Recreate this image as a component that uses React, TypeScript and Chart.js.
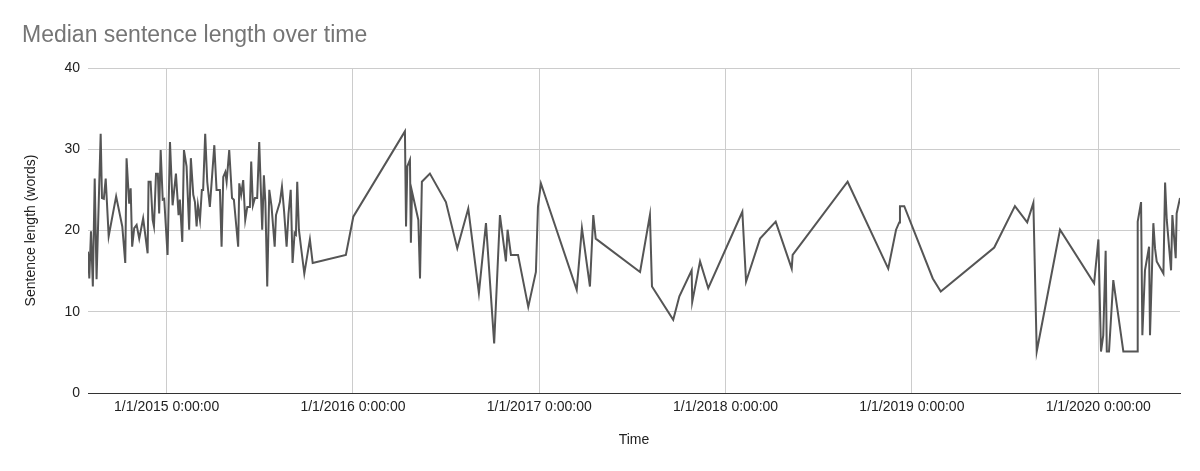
import React, { useEffect, useRef } from "react";
import { Chart, registerables } from "chart.js";

Chart.register(...registerables);

const TITLE = "Median sentence length over time";
const X_TITLE = "Time";
const Y_TITLE = "Sentence length (words)";
const YEAR_TICKS = [2015, 2016, 2017, 2018, 2019, 2020];
const X_MIN = 2014.578;
const X_MAX = 2020.439;
const Y_MIN = 0;
const Y_MAX = 40;
const Y_STEP = 10;

// time as decimal year
const TIMES = [
  2014.578, 2014.585, 2014.594, 2014.604, 2014.614, 2014.624, 2014.646, 2014.653, 2014.663, 2014.673,
  2014.689, 2014.729, 2014.762, 2014.778, 2014.785, 2014.799, 2014.807, 2014.815, 2014.826, 2014.839,
  2014.853, 2014.874, 2014.898, 2014.903, 2014.914, 2014.925, 2014.932, 2014.943, 2014.953, 2014.960,
  2014.968, 2014.979, 2014.987, 2015.005, 2015.018, 2015.032, 2015.050, 2015.064, 2015.071, 2015.084,
  2015.093, 2015.107, 2015.121, 2015.130, 2015.143, 2015.152, 2015.161, 2015.168, 2015.179, 2015.189,
  2015.196, 2015.207, 2015.218, 2015.232, 2015.256, 2015.268, 2015.286, 2015.295, 2015.304, 2015.315,
  2015.322, 2015.336, 2015.351, 2015.361, 2015.384, 2015.390, 2015.400, 2015.411, 2015.422, 2015.433,
  2015.447, 2015.454, 2015.463, 2015.474, 2015.486, 2015.497, 2015.513, 2015.522, 2015.530, 2015.540,
  2015.551, 2015.563, 2015.580, 2015.587, 2015.608, 2015.619, 2015.630, 2015.644, 2015.654, 2015.666,
  2015.676, 2015.687, 2015.694, 2015.701, 2015.710, 2015.721, 2015.739, 2015.769, 2015.784, 2015.962,
  2016.002, 2016.279, 2016.285, 2016.292, 2016.306, 2016.311, 2016.317, 2016.351, 2016.360, 2016.370,
  2016.413, 2016.499, 2016.560, 2016.619, 2016.676, 2016.714, 2016.758, 2016.789, 2016.821, 2016.830,
  2016.848, 2016.886, 2016.941, 2016.982, 2016.993, 2017.009, 2017.201, 2017.229, 2017.272, 2017.290,
  2017.303, 2017.541, 2017.594, 2017.605, 2017.719, 2017.752, 2017.818, 2017.821, 2017.863, 2017.907,
  2018.090, 2018.110, 2018.185, 2018.269, 2018.355, 2018.360, 2018.655, 2018.873, 2018.915, 2018.932,
  2018.936, 2018.959, 2019.112, 2019.155, 2019.442, 2019.553, 2019.619, 2019.652, 2019.670, 2019.795,
  2019.978, 2020.001, 2020.015, 2020.027, 2020.040, 2020.046, 2020.058, 2020.081, 2020.135, 2020.210,
  2020.212, 2020.230, 2020.237, 2020.251, 2020.273, 2020.278, 2020.296, 2020.305, 2020.314, 2020.350,
  2020.359, 2020.368, 2020.391, 2020.398, 2020.416, 2020.421, 2020.439,
];

// median sentence length (words)
const LENGTHS = [
  17.4, 14.1, 19.9, 13.1, 26.4, 14.0, 31.9, 24.0, 23.9, 26.4,
  19.3, 24.2, 20.5, 16.0, 28.9, 23.3, 25.2, 18.0, 20.3, 20.7,
  19.0, 21.5, 17.2, 26.0, 26.0, 21.3, 20.5, 27.0, 27.0, 22.1,
  29.9, 23.8, 23.9, 17.0, 30.9, 23.1, 27.0, 21.9, 23.8, 18.6,
  29.9, 27.9, 20.1, 28.9, 24.4, 23.5, 20.5, 23.1, 21.3, 25.0,
  25.0, 31.9, 26.0, 22.9, 30.5, 25.0, 25.0, 18.0, 26.6, 27.2,
  26.0, 29.9, 24.0, 23.8, 18.0, 25.8, 24.4, 26.2, 21.3, 22.9,
  22.9, 28.5, 23.1, 24.0, 24.0, 30.9, 20.1, 26.8, 23.5, 13.1,
  25.0, 23.0, 18.0, 21.9, 23.5, 25.4, 22.5, 18.0, 22.0, 25.0,
  16.0, 19.7, 19.5, 26.0, 20.1, 18.0, 14.7, 18.9, 16.0, 17.0,
  21.7, 32.2, 20.5, 27.9, 28.7, 18.5, 24.8, 21.3, 14.1, 26.0,
  27.0, 23.5, 17.8, 22.7, 12.3, 20.9, 6.1, 21.9, 16.2, 20.1,
  17.0, 17.0, 10.6, 14.9, 22.9, 25.8, 12.7, 20.3, 13.1, 21.9,
  19.0, 14.9, 21.9, 13.1, 9.0, 11.9, 15.1, 11.2, 16.2, 12.9,
  22.3, 13.7, 19.0, 21.1, 15.3, 17.0, 26.0, 15.3, 20.1, 21.0,
  23.0, 23.0, 14.1, 12.5, 17.9, 23.0, 21.0, 23.4, 5.1, 20.1,
  13.5, 18.9, 5.1, 7.1, 17.5, 5.1, 5.1, 13.9, 5.1, 5.1,
  21.1, 23.5, 7.1, 15.1, 18.0, 7.1, 20.9, 17.8, 16.2, 14.7,
  25.9, 21.3, 15.1, 21.9, 16.6, 22.1, 24.0,
];

const FONT = "'Liberation Sans', Arial, Helvetica, sans-serif";

const textPlugin = {
  id: "customTexts",
  afterDraw(chart: any) {
    const { ctx, chartArea } = chart;
    ctx.save();
    ctx.fillStyle = "#757575";
    ctx.font = `23px ${FONT}`;
    ctx.textAlign = "left";
    ctx.textBaseline = "alphabetic";
    ctx.fillText(TITLE, 22, 42);

    ctx.fillStyle = "#222222";
    ctx.font = `14px ${FONT}`;
    ctx.textAlign = "center";
    ctx.textBaseline = "middle";
    ctx.fillText(X_TITLE, (chartArea.left + chartArea.right) / 2, 440);

    ctx.translate(31, (chartArea.top + chartArea.bottom) / 2);
    ctx.rotate(-Math.PI / 2);
    ctx.fillText(Y_TITLE, 0, 0);
    ctx.restore();
  },
};

export default function App() {
  const ref = useRef<HTMLCanvasElement | null>(null);

  useEffect(() => {
    if (!ref.current) return;
    const points = TIMES.map((t, i) => ({ x: t, y: LENGTHS[i] }));
    const chart = new Chart(ref.current, {
      type: "line",
      data: {
        datasets: [
          {
            label: Y_TITLE,
            data: points,
            borderColor: "#555555",
            borderWidth: 2,
            pointRadius: 0,
            tension: 0,
            fill: false,
          },
        ],
      },
      options: {
        responsive: false,
        animation: false,
        layout: { padding: { top: 68, left: 0, right: 20, bottom: 0 } },
        plugins: {
          legend: { display: false },
          tooltip: { enabled: false },
          title: { display: false },
        },
        scales: {
          x: {
            type: "linear",
            min: X_MIN,
            max: X_MAX,
            afterBuildTicks: (scale: any) => {
              scale.ticks = YEAR_TICKS.map((v) => ({ value: v }));
            },
            afterFit: (scale: any) => {
              scale.height = 78;
            },
            ticks: {
              autoSkip: false,
              maxRotation: 0,
              minRotation: 0,
              padding: 6,
              color: "#222222",
              font: { family: FONT, size: 14 },
              callback: (v: any) => `1/1/${v} 0:00:00`,
            },
            grid: { color: "#cccccc", lineWidth: 1, drawTicks: false },
            border: { display: true, color: "#333333", width: 1 },
          },
          y: {
            min: Y_MIN,
            max: Y_MAX,
            afterFit: (scale: any) => {
              scale.width = 88;
            },
            ticks: {
              stepSize: Y_STEP,
              padding: 8,
              color: "#222222",
              font: { family: FONT, size: 14 },
            },
            grid: {
              color: (c: any) => (c.tick && c.tick.value === 0 ? "#333333" : "#cccccc"),
              lineWidth: 1,
              drawTicks: false,
            },
            border: { display: false },
          },
        },
      },
      plugins: [textPlugin],
    });
    return () => chart.destroy();
  }, []);

  return (
    <div style={{ position: "fixed", left: 0, top: 0, width: 1200, height: 471, background: "#ffffff" }}>
      <canvas ref={ref} width={1200} height={471} style={{ width: 1200, height: 471, display: "block" }} />
    </div>
  );
}
